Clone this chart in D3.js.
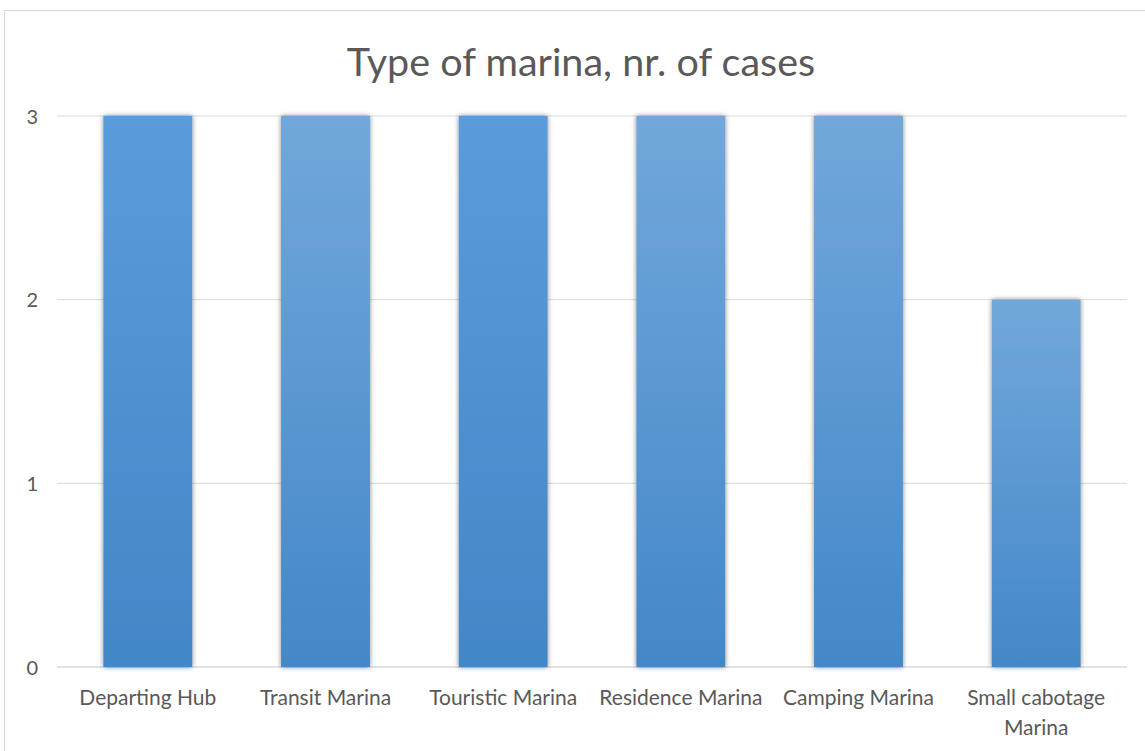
<!DOCTYPE html>
<html><head><meta charset="utf-8">
<script src="https://cdn.jsdelivr.net/npm/d3@7"></script>
<style>body{margin:0;background:#fff}svg{display:block}</style>
</head><body>
<script>
const categories = ["Departing Hub","Transit Marina","Touristic Marina","Residence Marina","Camping Marina","Small cabotage Marina"];
const values = [3,3,3,3,3,2];
const shades = ["a","b","a","b","b","b"];
const yTicks = [0,1,2,3];
const title = "Type of marina, nr. of cases";

const W=1145,H=751;
const FONT="Lato, 'Open Sans', sans-serif";
const svg=d3.select("body").append("svg").attr("width",W).attr("height",H);
const defs=svg.append("defs");
const grads={a:["#5a9cdb","#4287c7"],b:["#72a7db","#4388c8"]};
Object.entries(grads).forEach(([k,c])=>{
  const g=defs.append("linearGradient").attr("id","g"+k).attr("x1",0).attr("y1",0).attr("x2",0).attr("y2",1);
  g.append("stop").attr("offset","0%").attr("stop-color",c[0]);
  g.append("stop").attr("offset","100%").attr("stop-color",c[1]);
});
const f=defs.append("filter").attr("id","sh").attr("x","-20%").attr("y","-5%").attr("width","140%").attr("height","110%");
f.append("feGaussianBlur").attr("in","SourceAlpha").attr("stdDeviation",2.5).attr("result","b");
f.append("feComponentTransfer").attr("in","b").attr("result","o2").append("feFuncA").attr("type","linear").attr("slope",0.5);
const m=f.append("feMerge");m.append("feMergeNode").attr("in","o2");m.append("feMergeNode").attr("in","SourceGraphic");

svg.append("rect").attr("x",4.5).attr("y",10.5).attr("width",W).attr("height",H).attr("fill","#fff").attr("stroke","#d9d9d9");

svg.append("text").attr("x",581).attr("y",76).attr("text-anchor","middle")
  .attr("font-family",FONT).attr("font-size",39.5).attr("fill","#595959").text(title);

const x=d3.scaleBand().domain(categories).range([59,1125]).paddingInner(0.5).paddingOuter(0.25);
const y=d3.scaleLinear().domain([0,3]).range([667,116]);

const grid=svg.append("g");
grid.selectAll("line").data(yTicks).join("line")
  .attr("x1",57).attr("x2",1127).attr("y1",d=>y(d)).attr("y2",d=>y(d))
  .attr("stroke","#d9d9d9").attr("stroke-width",d=>d===0?1.5:1);

const ya=svg.append("g").attr("transform","translate(38,0)")
  .call(d3.axisLeft(y).tickValues(yTicks).tickFormat(d3.format("d")).tickSize(0).tickPadding(0));
ya.select(".domain").remove();
ya.selectAll("text").attr("font-family",FONT).attr("font-size",20).attr("fill","#595959").attr("dy","0.35em");

svg.append("g").selectAll("rect").data(categories).join("rect")
  .attr("x",d=>x(d)).attr("width",x.bandwidth())
  .attr("y",(d,i)=>y(values[i])).attr("height",(d,i)=>y(0)-y(values[i]))
  .attr("fill",(d,i)=>"url(#g"+shades[i]+")").attr("filter","url(#sh)");

const xa=svg.append("g").attr("transform","translate(0,667)")
  .call(d3.axisBottom(x).tickSize(0).tickPadding(0));
xa.select(".domain").remove();
xa.selectAll("text").attr("font-family",FONT).attr("font-size",21).attr("fill","#595959")
  .attr("dy",0).attr("y",38)
  .each(function(d){
    const t=d3.select(this);
    const w=x.step();
    t.text(null);
    const tmp=t.append("tspan").text(d);
    const len=tmp.node().getComputedTextLength();
    if(len>w){
      tmp.remove();
      const words=d.split(" ");
      t.append("tspan").attr("x",0).attr("dy",0).text(words.slice(0,-1).join(" "));
      t.append("tspan").attr("x",0).attr("dy",30).text(words[words.length-1]);
    }
  });
</script>
</body></html>
